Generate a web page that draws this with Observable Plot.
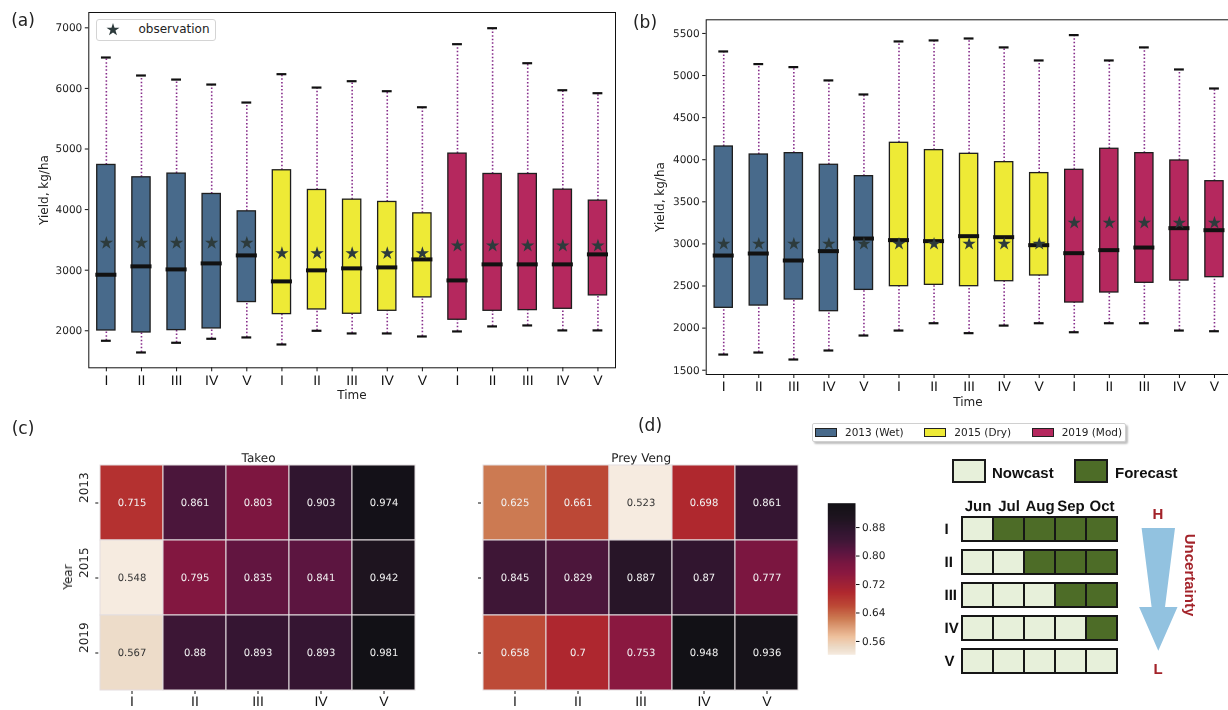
<!DOCTYPE html>
<html><head><meta charset="utf-8">
<script src="https://cdn.jsdelivr.net/npm/d3@7"></script>
<script src="https://cdn.jsdelivr.net/npm/@observablehq/plot@0.6"></script>
<style>
html,body{margin:0;padding:0;background:#fff;}
#root{position:relative;width:1228px;height:710px;overflow:hidden;font-family:"DejaVu Sans",sans-serif;color:#222;}
#root svg{will-change:transform;}
#root svg text{text-rendering:geometricPrecision;}
.lbl{position:absolute;white-space:nowrap;line-height:1;}
</style></head><body><div id="root"></div>
<script>
// ---------- data ----------
const stages = ["I","II","III","IV","V"];
const years = ["2013","2015","2019"];
const yearLabels = ["2013 (Wet)","2015 (Dry)","2019 (Mod)"];
const yearColors = ["#486a8b","#eeea36","#b5285e"];

// panel (a): 15 boxes (2013 I-V, 2015 I-V, 2019 I-V)
const aLow  = [1835,1642,1802,1868,1890, 1774,2000,1956,1956,1906, 1989,2072,2088,2006,2006];
const aQ1   = [2005,1972,2011,2039,2474, 2275,2352,2281,2330,2551, 2182,2330,2341,2363,2584];
const aMed  = [2925,3063,3013,3112,3244, 2815,2997,3030,3046,3178, 2831,3096,3096,3096,3261];
const aQ3   = [4737,4533,4594,4258,3971, 4649,4324,4164,4126,3938, 4924,4588,4588,4329,4148];
const aHigh = [6510,6213,6146,6064,5767, 6235,6014,6119,5954,5689, 6730,6994,6416,5970,5921];
const aObs  = [3448,3448,3448,3448,3448, 3278,3278,3278,3278,3278, 3404,3404,3404,3404,3404];
const aYTicks = [2000,3000,4000,5000,6000,7000];

// panel (b)
const bLow  = [1686,1710,1627,1734,1912, 1971,2058,1940,2030,2058, 1951,2058,2058,1971,1963];
const bQ1   = [2241,2268,2340,2201,2454, 2498,2514,2498,2557,2625, 2304,2423,2538,2565,2605];
const bMed  = [2862,2886,2803,2914,3064, 3045,3033,3092,3080,2985, 2890,2926,2957,3187,3163];
const bQ3   = [4157,4062,4078,3940,3805, 4201,4114,4070,3971,3841, 3880,4130,4078,3991,3745];
const bHigh = [5286,5136,5100,4942,4775, 5405,5417,5440,5334,5179, 5480,5179,5334,5072,4846];
const bObs  = [3000,3000,3000,3000,3000, 3000,3000,3000,3000,3000, 3250,3250,3250,3250,3250];
const bYTicks = [1500,2000,2500,3000,3500,4000,4500,5000,5500];

// panel (c) heatmaps (rows = years, cols = stages)
const takeo = [[0.715,0.861,0.803,0.903,0.974],[0.548,0.795,0.835,0.841,0.942],[0.567,0.88,0.893,0.893,0.981]];
const preyVeng = [[0.625,0.661,0.523,0.698,0.861],[0.845,0.829,0.887,0.87,0.777],[0.658,0.7,0.753,0.948,0.936]];
const colorbarTicks = [0.56,0.64,0.72,0.80,0.88];
const rampStops  = [0, 0.05, 0.12, 0.24, 0.32, 0.41, 0.54, 0.60, 0.68, 0.76, 0.82, 0.90, 1];
const rampColors = ["#f6ebe0","#ecdac6","#eec09c","#cc7a52","#bd4a36","#b0282e","#8a1840","#7a1640","#5b1540","#3d1636","#30152f","#1f1420","#121116"];

// panel (d) scheme
const months = ["Jun","Jul","Aug","Sep","Oct"];
const nowcastCount = [1,2,3,4,5];
const kinds = ["Nowcast","Forecast"];
const kindColors = ["#e7f0da","#4d6c27"];
const arrowOutline = [{y:0,x1:-16.7,x2:16.7},{y:0.644,x1:-6.7,x2:6.7},{y:0.644,x1:-19.2,x2:19.2},{y:1,x1:0,x2:0}];

// ---------- helpers ----------
const root = document.getElementById("root");
function place(node, left, top){ node.style.position="absolute"; node.style.left=left+"px"; node.style.top=top+"px"; root.appendChild(node); return node; }
function label(text, x, y, o={}){
  const d=document.createElement("div"); d.className="lbl"; d.textContent=text;
  d.style.left=x+"px"; d.style.top=y+"px"; d.style.fontSize=(o.size||12)+"px";
  if(o.family) d.style.fontFamily=o.family; if(o.weight) d.style.fontWeight=o.weight; if(o.color) d.style.color=o.color;
  d.style.transform=`translate(-50%,-50%)`+(o.rotate?` rotate(${o.rotate}deg)`:"");
  root.appendChild(d); return d;
}
const baseStyle = {fontFamily:"DejaVu Sans", fontSize:"10.5px", color:"#222", background:"none", overflow:"visible"};
const romanFont = "Liberation Sans";

function boxPanel(lo,q1,med,q3,hi,obs,yTicks,yDomain,dims){
  const data = lo.map((_,i)=>({pos:i+1, year:years[Math.floor(i/5)], lo:lo[i], q1:q1[i], med:med[i], q3:q3[i], hi:hi[i], obs:obs[i]}));
  const whisk = {x:"pos", stroke:"#862c8a", strokeWidth:1.6, strokeDasharray:"1.5,2.1"};
  return Plot.plot({
    width:dims.width, height:dims.height, marginLeft:dims.ml, marginRight:dims.mr, marginTop:dims.mt, marginBottom:dims.mb,
    x:{domain:[0.5,15.5]}, y:{domain:yDomain},
    color:{domain:years, range:yearColors},
    style:baseStyle,
    marks:[
      Plot.ruleX(data,{...whisk, y1:"q3", y2:"hi"}),
      Plot.ruleX(data,{...whisk, y1:"lo", y2:"q1"}),
      Plot.ruleY(data,{y:"hi", x1:d=>d.pos-0.14, x2:d=>d.pos+0.14, stroke:"#111", strokeWidth:2.2}),
      Plot.ruleY(data,{y:"lo", x1:d=>d.pos-0.14, x2:d=>d.pos+0.14, stroke:"#111", strokeWidth:2.2}),
      Plot.rect(data,{x1:d=>d.pos-0.26, x2:d=>d.pos+0.26, y1:"q1", y2:"q3", fill:"year", stroke:"#1e1e1e", strokeWidth:1.3}),
      Plot.ruleY(data,{y:"med", x1:d=>d.pos-0.3, x2:d=>d.pos+0.3, stroke:"#111", strokeWidth:4}),
      Plot.dot(data,{x:"pos", y:"obs", symbol:"star", fill:"#2d3b3c", r:4.2}),
      Plot.frame({stroke:"#111"}),
      Plot.axisX(data.map(d=>d.pos),{tickFormat:i=>stages[(i-1)%5], tickSize:4, tickPadding:3, fontSize:14, fontFamily:romanFont, fill:"#111", stroke:"#111", label:null}),
      Plot.axisY(yTicks,{tickFormat:d=>String(d), tickSize:3.5, tickPadding:3, fill:"#222", stroke:"#111", label:null})
    ]
  });
}

const rampScale = d3.scaleLinear().domain(rampStops).range(rampColors).interpolate(d3.interpolateRgb).clamp(true);
const rocketR = t => rampScale(t);

function heatPanel(values, title, dims, showYLabels){
  const cells = years.flatMap((y,r)=>stages.map((s,c)=>({year:y, stage:s, v:values[r][c]})));
  const vmin = d3.min(cells,d=>d.v), vmax = d3.max(cells,d=>d.v);
  const light = d => d3.lab(rocketR((d.v-vmin)/(vmax-vmin))).l > 70;
  const marks = [
    Plot.cell(cells,{x:"stage", y:"year", fill:"v", stroke:"#e4dde0", strokeWidth:1, inset:0}),
    Plot.text(cells.filter(light),{x:"stage", y:"year", text:d=>String(d.v), fill:"#333", fontSize:10}),
    Plot.text(cells.filter(d=>!light(d)),{x:"stage", y:"year", text:d=>String(d.v), fill:"#f2f2f2", fontSize:10}),
    Plot.axisX({tickSize:3, tickPadding:2, fontSize:14, fontFamily:romanFont, fill:"#111", stroke:"#111", label:null}),
    Plot.axisY({tickSize:3, tickFormat:()=>"", stroke:"#111", label:null}),
    Plot.text([title],{frameAnchor:"top", dy:-10.7, text:d=>d, fill:"#222", fontSize:12})
  ];
  if (showYLabels) marks.push(Plot.text(years,{y:d=>d, text:d=>d, frameAnchor:"left", dx:-14.3, rotate:-90, fill:"#222", fontSize:12}));
  return {plot: Plot.plot({
    width:dims.width, height:dims.height, marginLeft:dims.ml, marginRight:dims.mr, marginTop:dims.mt, marginBottom:dims.mb,
    x:{domain:stages, padding:0}, y:{domain:years, padding:0},
    color:{type:"linear", domain:[vmin,vmax], interpolate:rocketR},
    style:baseStyle, marks
  }), vmin, vmax};
}

// ---------- panel (a) ----------
place(boxPanel(aLow,aQ1,aMed,aQ3,aHigh,aObs,aYTicks,[1389,7253],{width:625,height:410,ml:88.3,mr:10,mt:12,mb:42.7}),0,0);
label("(a)",23,20,{size:17});
label("Yield, kg/ha",44,190,{size:12,rotate:-90});
label("Time",352,395,{size:12});
// observation legend
(function(){
  const box=document.createElement("div");
  Object.assign(box.style,{width:"118px",height:"20px",border:"1px solid #d4d4d4",borderRadius:"3px",background:"#fff"});
  place(box,95.7,19);
  const ns="http://www.w3.org/2000/svg";
  const svg=document.createElementNS(ns,"svg"); svg.setAttribute("width","16"); svg.setAttribute("height","16");
  const p=document.createElementNS(ns,"path"); p.setAttribute("d",d3.symbol(d3.symbolStar,52)()); p.setAttribute("transform","translate(8,8.8)"); p.setAttribute("fill","#2d3b3c");
  svg.appendChild(p); place(svg,105,21.3);
  label("observation",174,29,{size:12});
})();

// ---------- panel (b) ----------
place(boxPanel(bLow,bQ1,bMed,bQ3,bHigh,bObs,bYTicks,[1449,5662],{width:612,height:410,ml:85.7,mr:0.5,mt:19.3,mb:36}),620,0);
label("(b)",645,22,{size:17});
label("Yield, kg/ha",660,197,{size:12,rotate:-90});
label("Time",968,402,{size:12});

// ---------- panel (c) ----------
label("(c)",23,428,{size:17});
const hT = heatPanel(takeo,"Takeo",{width:430,height:270,ml:98.3,mr:12.3,mt:23.7,mb:19},true);
place(hT.plot,0,440);
label("Year",68,577,{size:12,rotate:-90});
const hP = heatPanel(preyVeng,"Prey Veng",{width:400,height:270,ml:61,mr:19.7,mt:23.7,mb:19},false);
place(hP.plot,420,440);

// colorbar (Prey Veng scale)
(function(){
  const lo = 0.5225, hi = 0.9485;
  const cbMarks = [];
  if (Plot.raster) {
    cbMarks.push(Plot.raster({x1:0, x2:1, y1:lo, y2:hi, width:1, height:256, fill:(x,y)=>y, imageRendering:"auto"}));
  }
  cbMarks.push(Plot.axisY(colorbarTicks,{anchor:"right", tickFormat:d3.format(".2f"), tickSize:3.5, tickPadding:3, fill:"#222", stroke:"#111", label:null}));
  const cb = Plot.plot({
    width:100, height:180, marginLeft:27.3, marginRight:45, marginTop:12.7, marginBottom:15.7,
    x:{domain:[0,1], axis:null}, y:{domain:[lo,hi]},
    color:{type:"linear", domain:[hP.vmin,hP.vmax], interpolate:rocketR},
    style:baseStyle, marks:cbMarks
  });
  place(cb,800,490);
})();

// ---------- panel (d) ----------
label("(d)",650,425,{size:17});
// year legend
(function(){
  const box=document.createElement("div");
  Object.assign(box.style,{width:"312px",height:"17px",border:"1px solid #d0d0d0",borderRadius:"2px",background:"#fff",boxShadow:"2px 2px 2px rgba(0,0,0,0.25)"});
  place(box,812,423);
  const sx=[815,924.3,1031.7], tx=[845,954.3,1061.7];
  yearLabels.forEach((t,i)=>{
    const sw=document.createElement("div");
    Object.assign(sw.style,{width:"20px",height:"7px",background:yearColors[i],border:"1px solid #222"});
    place(sw,sx[i],427.5);
    const l=label(t,0,432,{size:10.5}); l.style.left=tx[i]+"px"; l.style.transform="translate(0,-50%)";
  });
})();
// nowcast / forecast legend
(function(){
  const sx=[951.7,1074], tx=[992,1115];
  kinds.forEach((k,i)=>{
    const sw=document.createElement("div");
    Object.assign(sw.style,{width:"30px",height:"20px",background:kindColors[i],border:"2px solid #1a1a1a"});
    place(sw,sx[i],459.3);
    const l=label(k,0,471.5,{size:15,weight:"bold",family:romanFont,color:"#111"}); l.style.left=tx[i]+"px"; l.style.transform="translate(0,-50%)";
  });
})();
// scheme grid
(function(){
  const cells = stages.flatMap((s,r)=>months.map((m,c)=>({stage:s, month:m, kind: c < nowcastCount[r] ? kinds[0] : kinds[1]})));
  const g = Plot.plot({
    width:260, height:200, marginLeft:80, marginRight:21, marginTop:35.7, marginBottom:5.7,
    x:{domain:months, padding:0}, y:{domain:stages, paddingInner:0.26, paddingOuter:0, axis:null},
    color:{domain:kinds, range:kindColors},
    style:baseStyle,
    marks:[
      Plot.cell(cells,{x:"month", y:"stage", fill:"kind", stroke:"#161616", strokeWidth:2, inset:0}),
      Plot.axisX({anchor:"top", tickSize:0, tickPadding:5, fontSize:15, fontWeight:"bold", fontFamily:romanFont, fill:"#111", label:null}),
      Plot.text(stages,{y:d=>d, text:d=>d, frameAnchor:"left", dx:-16, fontSize:15, fontWeight:"bold", fontFamily:romanFont, fill:"#111"})
    ]
  });
  place(g,880,480);
})();
// uncertainty arrow
(function(){
  const a = Plot.plot({
    width:60, height:140, marginLeft:8.3, marginRight:11.7, marginTop:8, marginBottom:9.3,
    x:{domain:[-20,20], axis:null}, y:{domain:[0,1], reverse:true, axis:null},
    style:baseStyle,
    marks:[Plot.areaX(arrowOutline,{y:"y", x1:"x1", x2:"x2", fill:"#92c2e0", curve:"linear"})]
  });
  place(a,1130,520);
  label("H",1158,513,{size:15,weight:"bold",family:romanFont,color:"#a3232a"});
  label("L",1158,668,{size:15,weight:"bold",family:romanFont,color:"#a3232a"});
  label("Uncertainty",1190,575,{size:15,weight:"bold",family:romanFont,color:"#a3232a",rotate:90});
})();
</script></body></html>
